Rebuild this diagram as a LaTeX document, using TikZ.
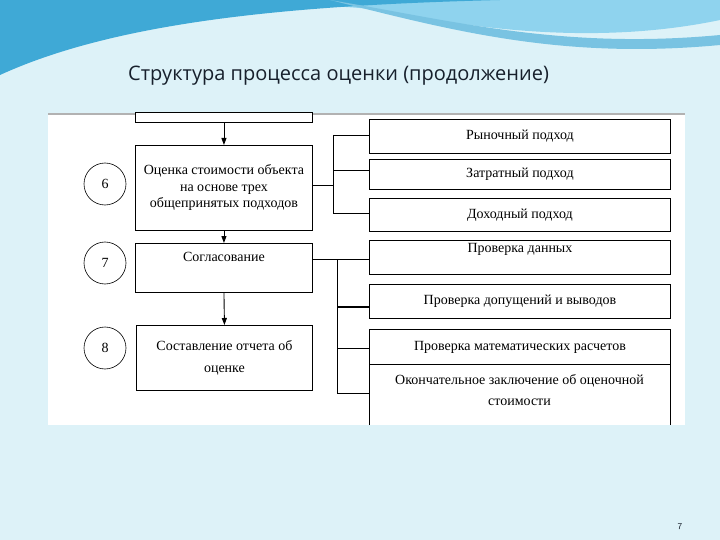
\documentclass[tikz,border=0pt]{standalone}
\usepackage{fontspec}
\setmainfont{Liberation Serif}
\newfontfamily\titlefont{Open Sans}
\usetikzlibrary{arrows.meta}
\definecolor{bg}{HTML}{DDF2F8}
\definecolor{wave1}{HTML}{3FA9D6}
\definecolor{wave2}{HTML}{8FD3EE}
\definecolor{titlec}{HTML}{17202C}
\tikzset{
  box/.style={draw, line width=0.9pt, fill=white, font=\fontsize{14}{16.5}\selectfont, align=center, inner sep=0pt},
  num/.style={draw, circle, line width=0.6pt, minimum size=42pt, inner sep=0pt, font=\fontsize{14}{16}\selectfont},
  arr/.style={-{Triangle[length=7pt,width=5pt]}, line width=0.9pt},
  ln/.style={line width=0.9pt}
}
\begin{document}
\begin{tikzpicture}[x=1pt,y=-1pt]
\useasboundingbox (0,0) rectangle (720,540);
\fill[bg] (0,0) rectangle (720,540);
% top waves
\fill[wave2] (0,0) -- (720,0) -- (720,20) .. controls (600,45) and (480,30) .. (380,10) .. controls (250,-5) and (100,20) .. (0,60) -- cycle;
\fill[wave1] (0,0) -- (500,0) .. controls (300,5) and (120,20) .. (0,75) -- cycle;
\fill[wave1!70] (330,0) .. controls (450,20) and (560,50) .. (720,35) -- (720,45) .. controls (560,60) and (450,30) .. (330,0) -- cycle;
\node[font=\titlefont\fontsize{20}{22}\selectfont, text=titlec, anchor=west, inner sep=0pt] (title) at (128,76) {Структура процесса оценки (продолжение)};
% panel
\fill[white] (48,113) rectangle (685,425);
\draw[gray!60, line width=2pt] (48,114) -- (685,114);
% left column
\node[box, minimum width=177pt, minimum height=10pt, anchor=south west] (b5) at (135,123) {};
\node[box, minimum width=177pt, minimum height=85pt, anchor=north west] (b6) at (135,145) {Оценка стоимости объекта\\на основе трех\\общепринятых подходов};
\node[box, minimum width=177pt, minimum height=49pt, anchor=north west] (b7) at (135,243) {Согласование\\[6pt]};
\node[box, minimum width=176pt, minimum height=65pt, anchor=north west] (b8) at (136,325) {Составление отчета об\\[6pt]оценке};
\draw[arr] (b5.south) -- (b6.north);
\draw[arr] (b6.south) -- (b7.north);
\draw[arr] (b7.south) -- (b8.north);
\node[num] (c6) at (105,184) {6};
\node[num] (c7) at (105,263) {7};
\node[num] (c8) at (105,348) {8};
% right column
\node[box, minimum width=301pt, minimum height=34pt, anchor=north west] (r1) at (369,119) {Рыночный подход};
\node[box, minimum width=301pt, minimum height=30pt, anchor=north west] (r2) at (369,159) {Затратный подход};
\node[box, minimum width=301pt, minimum height=33pt, anchor=north west] (r3) at (369,198) {Доходный подход};
\node[box, minimum width=301pt, minimum height=34pt, anchor=north west] (r4) at (369,240) {Проверка данных\\[2pt]};
\node[box, minimum width=301pt, minimum height=34pt, anchor=north west] (r5) at (369,284) {Проверка допущений и выводов};
\node[box, minimum width=301pt, minimum height=35pt, anchor=north west] (r6) at (369,329) {Проверка математических расчетов};
\fill[white] (369,364) rectangle (670,425);
\draw[ln] (369,425) -- (369,364) -- (670,364) -- (670,425);
\node[font=\fontsize{14}{21}\selectfont, align=center] (r7) at (519.5,390) {Окончательное заключение об оценочной\\стоимости};
% connectors
\coordinate (j6) at (333,185);
\draw[ln] (b6.east |- j6) -- (j6);
\draw[ln] (333,135) -- (333,213);
\draw[ln] (333,135) -- (r1.west |- 0,135);
\draw[ln] (333,170) -- (r2.west |- 0,170);
\draw[ln] (333,213) -- (r3.west |- 0,213);
\draw[ln] (b7.east |- 0,259) -- (r4.west |- 0,259);
\draw[ln] (337,259) -- (337,393);
\draw[line width=1.6pt] (337,307) -- (r5.west |- 0,307);
\draw[ln] (337,348) -- (r6.west |- 0,348);
\draw[ln] (337,393) -- (369,393);
\node[font=\sffamily\fontsize{9}{10}\selectfont, text=titlec] (pg) at (680,527) {7};
\end{tikzpicture}
\end{document}
